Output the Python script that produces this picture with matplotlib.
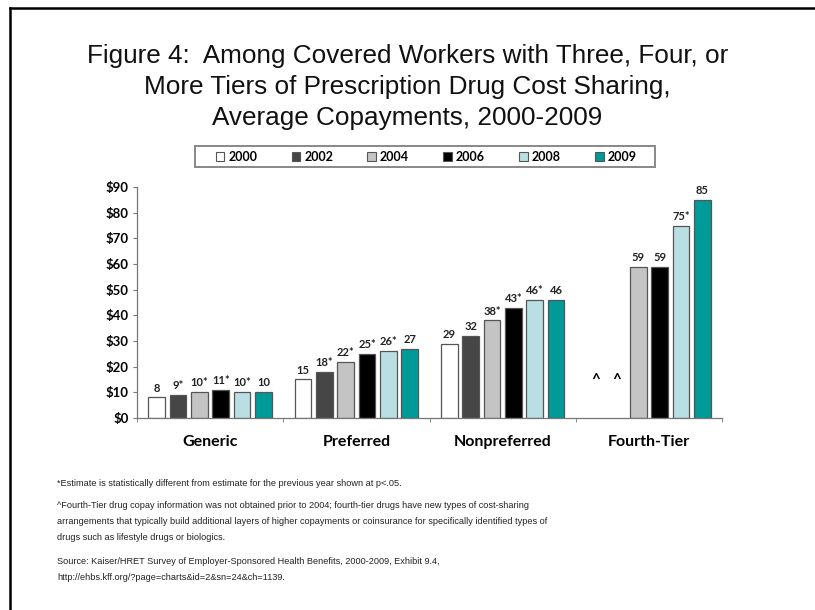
import numpy as np
import matplotlib
matplotlib.use("Agg")
import matplotlib.pyplot as plt
from matplotlib.lines import Line2D
from matplotlib.patches import Rectangle
from matplotlib import font_manager

categories = ["Generic", "Preferred", "Nonpreferred", "Fourth-Tier"]
years = ["2000", "2002", "2004", "2006", "2008", "2009"]
colors = ["#ffffff", "#464646", "#c4c4c4", "#000000", "#b9dfe4", "#009a98"]

# copay values per year, one entry per category (None = not collected)
v2000 = [8, 15, 29, None]
v2002 = [9, 18, 32, None]
v2004 = [10, 22, 38, 59]
v2006 = [11, 25, 43, 59]
v2008 = [10, 26, 46, 75]
v2009 = [10, 27, 46, 85]
values = [v2000, v2002, v2004, v2006, v2008, v2009]

# significance markers (*)
s2000 = [False, False, False, False]
s2002 = [True, True, False, False]
s2004 = [True, True, True, False]
s2006 = [True, True, True, False]
s2008 = [True, True, True, True]
s2009 = [False, False, False, False]
signif = [s2000, s2002, s2004, s2006, s2008, s2009]

yticks = [0, 10, 20, 30, 40, 50, 60, 70, 80, 90]

lbl_font = "Lato"

fig = plt.figure(figsize=(8.15, 6.1), dpi=100)
ax = fig.add_axes([0.168, 0.3148, 0.718, 0.3786])

x = np.arange(len(categories))
step = 0.146
width = 0.113
for i, (yr, vals, sig, c) in enumerate(zip(years, values, signif, colors)):
    offs = (i - 2.5) * step
    for j, v in enumerate(vals):
        if v is None:
            ax.text(x[j] + offs, 12, "^", ha="center", va="bottom",
                    fontsize=11, fontfamily=lbl_font, fontweight="bold")
            continue
        ax.bar(x[j] + offs, v, width=width, color=c, edgecolor="#555555",
               linewidth=0.9, zorder=2)
        ax.text(x[j] + offs, v + 1.5, f"{v}{'*' if sig[j] else ''}",
                ha="center", va="bottom", fontsize=8, fontweight="bold",
                fontfamily=lbl_font, color="#222222")

ax.set_xlim(-0.5, len(categories) - 0.5)
ax.set_ylim(0, 90)
ax.set_yticks(yticks)
ax.set_yticklabels([f"${t}" for t in yticks], fontsize=9.5, fontweight="bold",
                   fontfamily=lbl_font)
ax.set_xticks(x)
ax.set_xticklabels(categories, fontsize=11.5, fontweight="bold", fontfamily=lbl_font)
ax.tick_params(axis="x", length=0, pad=12)
ax.tick_params(axis="y", length=3, color="#777777", width=0.8, pad=3)
# category separators on x axis
ax.set_xticks(np.arange(-0.5, len(categories) + 0.5), minor=True)
ax.tick_params(axis="x", which="minor", length=3, color="#777777")
for s in ["top", "right"]:
    ax.spines[s].set_visible(False)
for s in ["left", "bottom"]:
    ax.spines[s].set_color("#777777")
    ax.spines[s].set_linewidth(0.9)

# legend (frame drawn separately for wider side padding)
handles = [Rectangle((0, 0), 1, 1, facecolor=c, edgecolor="#555555", linewidth=0.8)
           for c in colors]
leg = fig.legend(handles, years, loc="center", bbox_to_anchor=(0.523, 1 - 157 / 610),
                 ncol=6, frameon=False, columnspacing=2.75,
                 handlelength=0.7, handleheight=0.7, handletextpad=0.3,
                 borderpad=0.2,
                 prop={"family": lbl_font, "weight": "bold", "size": 9})
fig.add_artist(Rectangle((195 / 815, 1 - 167 / 610), 460 / 815, 21 / 610,
                         transform=fig.transFigure, fill=False,
                         edgecolor="#888888", linewidth=1.4))

# title
fig.text(0.5, 1 - 87 / 610,
         "Figure 4:  Among Covered Workers with Three, Four, or\n"
         "More Tiers of Prescription Drug Cost Sharing,\n"
         "Average Copayments, 2000-2009",
         ha="center", va="center", fontsize=18.8, fontfamily="Liberation Sans",
         linespacing=1.35, color="#111111")

# footnotes
try:
    font_manager.findfont(font_manager.FontProperties(family="Liberation Sans Narrow"),
                          fallback_to_default=False)
    note_font, note_size = ["Liberation Sans Narrow", "Liberation Sans"], 8.3
except ValueError:
    note_font, note_size = ["Liberation Sans"], 6.6
fx = 57 / 815
notes = [
    (483, "*Estimate is statistically different from estimate for the previous year shown at p<.05."),
    (505, "^Fourth-Tier drug copay information was not obtained prior to 2004; fourth-tier drugs have new types of cost-sharing"),
    (521, "arrangements that typically build additional layers of higher copayments or coinsurance for specifically identified types of"),
    (537, "drugs such as lifestyle drugs or biologics."),
    (562, "Source: Kaiser/HRET Survey of Employer-Sponsored Health Benefits, 2000-2009, Exhibit 9.4,"),
    (578, "http://ehbs.kff.org/?page=charts&id=2&sn=24&ch=1139."),
]
for ypx, t in notes:
    fig.text(fx, 1 - ypx / 610, t, ha="left", va="center", fontsize=note_size,
             family=note_font, color="#222222")

# slide frame (top and left edges)
fig.add_artist(Line2D([10 / 815, 1], [1 - 8 / 610, 1 - 8 / 610],
                      transform=fig.transFigure, color="black", linewidth=1.8))
fig.add_artist(Line2D([10 / 815, 10 / 815], [0, 1 - 8 / 610],
                      transform=fig.transFigure, color="black", linewidth=1.8))

fig.savefig("out.png", dpi=100, facecolor="white")
